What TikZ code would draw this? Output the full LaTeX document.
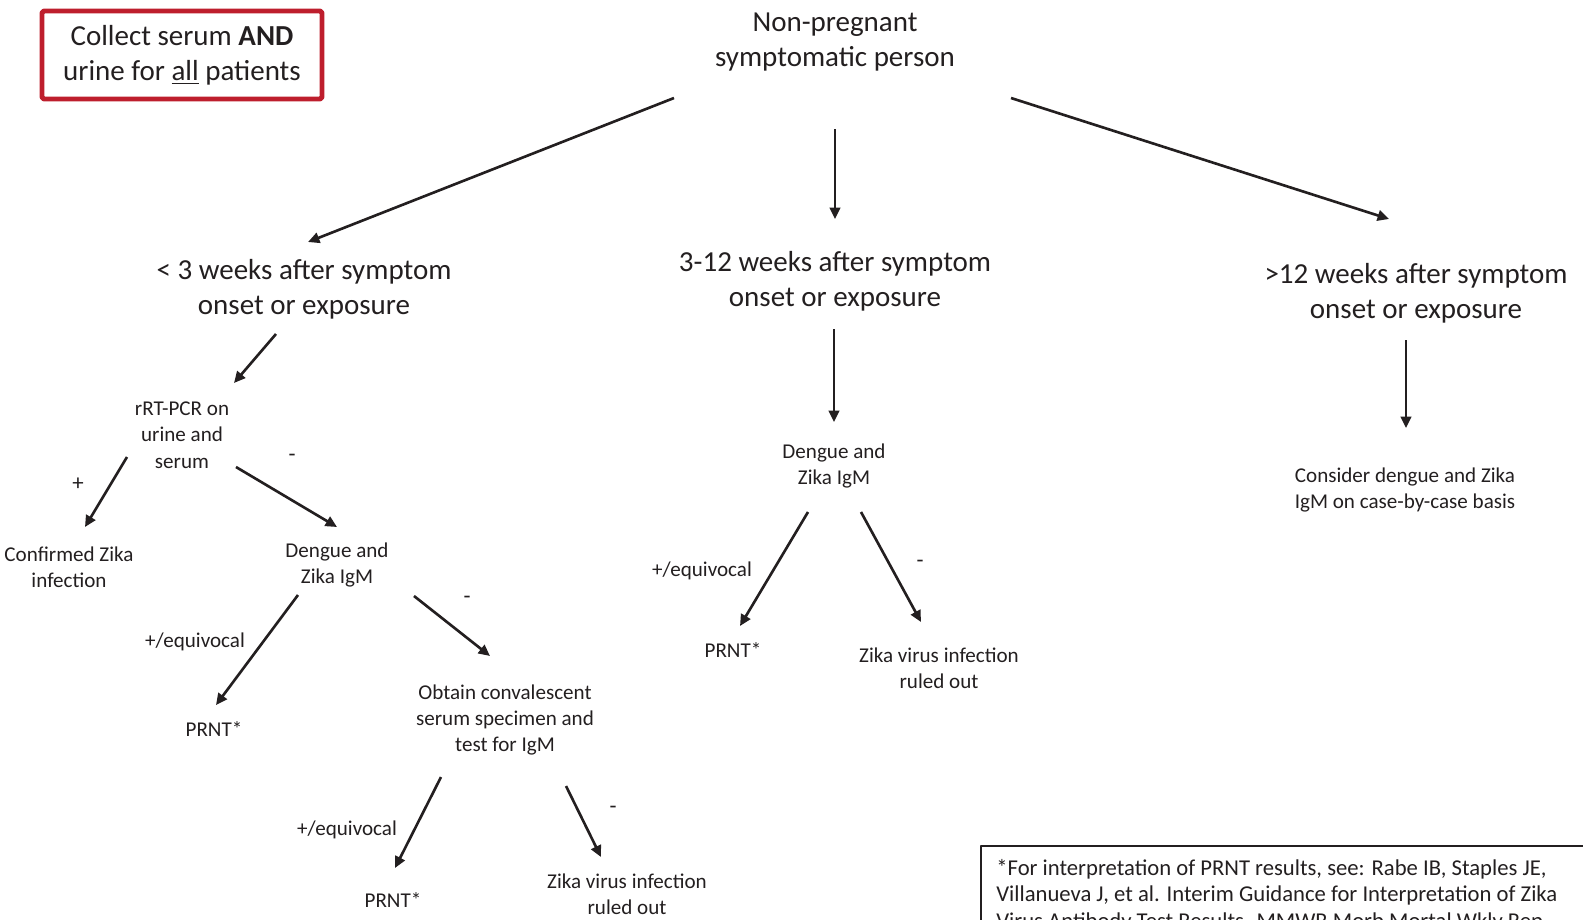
\documentclass[tikz,border=0pt]{standalone}
\usepackage{fontspec}
\setmainfont{Carlito}
\usetikzlibrary{arrows.meta}
\definecolor{boxred}{RGB}{190,30,45}
\definecolor{ink}{RGB}{35,31,32}
\tikzset{
	big/.style={align=center, font=\fontsize{16.5}{20}\selectfont, text=ink},
	small/.style={align=center, font=\fontsize{12}{15}\selectfont, text=ink},
	sign/.style={font=\fontsize{13}{15}\selectfont, text=ink},
	arr/.style={->, line width=1.5pt, draw=ink}
}
\begin{document}
\begin{tikzpicture}[x=0.02cm, y=-0.02cm, >={Triangle[length=6.5pt,width=6pt]}, line join=round]
	\useasboundingbox (0,0) rectangle (1583,920);
	% note box
	\node[big, draw=boxred, line width=2.8pt, rounded corners=1pt, minimum width=5.6cm, minimum height=1.76cm] (collect) at (182,55) {Collect serum \textbf{AND}\\urine for \underline{all} patients};
	% first level
	\node[big] (person) at (835,42) {Non-pregnant\\symptomatic person};
	\node[big] (early) at (304,289) {< 3 weeks after symptom\\onset or exposure};
	\node[big] (mid) at (835,281) {3-12 weeks after symptom\\onset or exposure};
	\node[big] (late) at (1416,293) {>12 weeks after symptom\\onset or exposure};
	\draw[arr] ([shift={(-161,56)}]person.center) -- ([shift={(4,-47)}]early.center);
	\draw[arr] ([shift={(0,87)}]person.center) -- ([shift={(0,-62)}]mid.center);
	\draw[arr] ([shift={(176,56)}]person.center) -- ([shift={(-27,-74)}]late.center);
	% < 3 weeks
	\node[small] (pcr) at (182,435) {rRT-PCR on\\urine and\\serum};
	\node[small] (confirmed) at (69,567) {Confirmed Zika\\infection};
	\node[small] (iggl) at (337,565) {Dengue and\\Zika IgM};
	\node[small] (prntl) at (214,729) {PRNT*};
	\node[small] (conv) at (505,720) {Obtain convalescent\\serum specimen and\\test for IgM};
	\node[small] (prntb) at (393,900) {PRNT*};
	\node[small] (outl) at (627,894) {Zika virus infection\\ruled out};
	\draw[arr] ([shift={(-28,45)}]early.center) -- ([shift={(52,-52)}]pcr.center);
	\draw[arr] ([shift={(-55,22)}]pcr.center) -- ([shift={(16,-40)}]confirmed.center);
	\draw[arr] ([shift={(54,32)}]pcr.center) -- ([shift={(0,-38)}]iggl.center);
	\draw[arr] ([shift={(-39,30)}]iggl.center) -- ([shift={(2,-24)}]prntl.center);
	\draw[arr] ([shift={(77,31)}]iggl.center) -- ([shift={(-15,-64)}]conv.center);
	\draw[arr] ([shift={(-64,57)}]conv.center) -- ([shift={(2,-32)}]prntb.center);
	\draw[arr] ([shift={(61,66)}]conv.center) -- ([shift={(-26,-37)}]outl.center);
	\node[sign] (plus1) at (78,484) {+};
	\node[sign] (minus1) at (292,458) {-};
	\node[small] (eq1) at (195,642) {+/equivocal};
	\node[sign] (minus2) at (467,600) {-};
	\node[small] (eq2) at (347,830) {+/equivocal};
	\node[sign] (minus3) at (613,810) {-};
	% 3-12 weeks
	\node[small] (iggm) at (834,466) {Dengue and\\Zika IgM};
	\node[small] (prntm) at (733,650) {PRNT*};
	\node[small] (outm) at (939,668) {Zika virus infection\\ruled out};
	\draw[arr] ([shift={(-1,48)}]mid.center) -- ([shift={(0,-44)}]iggm.center);
	\draw[arr] ([shift={(-26,46)}]iggm.center) -- ([shift={(7,-24)}]prntm.center);
	\draw[arr] ([shift={(27,46)}]iggm.center) -- ([shift={(-18,-46)}]outm.center);
	\node[small] (eq3) at (702,571) {+/equivocal};
	\node[sign] (minus4) at (920,564) {-};
	% > 12 weeks
	\node[small] (consider) at (1405,490) {Consider dengue and Zika\\IgM on case-by-case basis};
	\draw[arr] ([shift={(-10,47)}]late.center) -- ([shift={(1,-62)}]consider.center);
	% footnote
	\draw[ink, line width=0.9pt] (1600,846) -| (981,960) -- (1600,960);
	\node[anchor=north west, align=left, font=\fontsize{12.9}{15}\selectfont, text=ink, inner sep=0pt] (note) at (996,859) {*For interpretation of PRNT results, see: Rabe IB, Staples JE,\\Villanueva J, et al. Interim Guidance for Interpretation of Zika\\Virus Antibody Test Results. MMWR Morb Mortal Wkly Rep};
\end{tikzpicture}
\end{document}
